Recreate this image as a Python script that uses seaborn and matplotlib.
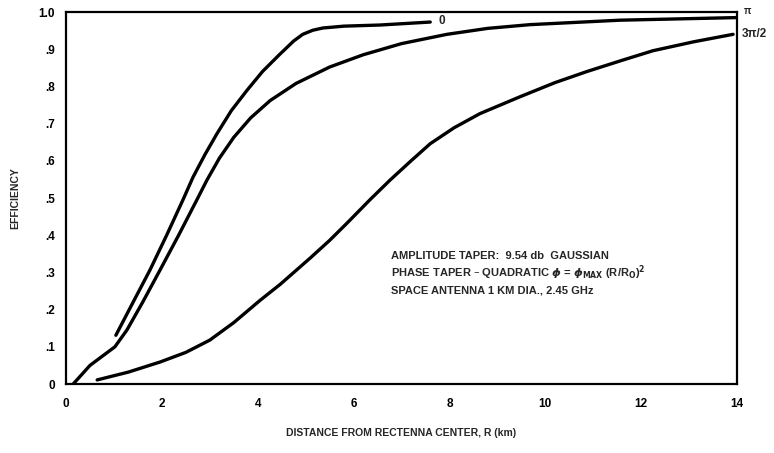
import matplotlib
matplotlib.use("Agg")
import matplotlib.pyplot as plt
import seaborn as sns
import pandas as pd

# --- data ---
phase_labels = ["0", "π", "3π/2"]

x_phase0 = [1.04, 1.4, 1.75, 2.1, 2.44, 2.65, 2.9, 3.15, 3.45, 3.78, 4.1, 4.45, 4.75, 4.94, 5.15, 5.36, 5.8, 6.55, 7.6]
y_phase0 = [0.131, 0.22, 0.306, 0.40, 0.495, 0.556, 0.617, 0.673, 0.735, 0.79, 0.84, 0.885, 0.922, 0.94, 0.951, 0.957, 0.962, 0.965, 0.973]

x_phasepi = [0.15, 0.5, 1.02, 1.27, 1.6, 1.96, 2.35, 2.73, 2.94, 3.2, 3.5, 3.85, 4.26, 4.8, 5.5, 6.2, 7.0, 7.95, 8.8, 9.68, 11.56, 14.0]
y_phasepi = [0.0, 0.05, 0.10, 0.145, 0.22, 0.306, 0.40, 0.495, 0.548, 0.607, 0.663, 0.715, 0.762, 0.808, 0.852, 0.885, 0.915, 0.940, 0.956, 0.966, 0.978, 0.985]

x_phase3pi2 = [0.65, 1.3, 1.96, 2.5, 3.0, 3.5, 4.05, 4.47, 5.09, 5.5, 5.86, 6.34, 6.76, 7.2, 7.6, 8.1, 8.64, 9.47, 10.2, 10.87, 11.6, 12.25, 13.1, 13.92]
y_phase3pi2 = [0.011, 0.032, 0.059, 0.085, 0.118, 0.165, 0.225, 0.268, 0.338, 0.386, 0.432, 0.495, 0.548, 0.6, 0.646, 0.689, 0.727, 0.772, 0.81, 0.84, 0.87, 0.896, 0.92, 0.94]

x_ticks = [0, 2, 4, 6, 8, 10, 12, 14]
x_tick_labels = ["0", "2", "4", "6", "8", "10", "12", "14"]
y_ticks = [0, 0.1, 0.2, 0.3, 0.4, 0.5, 0.6, 0.7, 0.8, 0.9, 1.0]
y_tick_labels = ["0", ".1", ".2", ".3", ".4", ".5", ".6", ".7", ".8", ".9", "1.0"]

annotation_lines = [
    "AMPLITUDE TAPER:  9.54 db  GAUSSIAN",
    r"PHASE TAPER – QUADRATIC $\phi$ = $\phi_{\rm MAX}$ (R/R$_{\rm O}$)$^{\mathbf{2}}$",
    "SPACE ANTENNA 1 KM DIA., 2.45 GHz",
]

frames = []
for lab, xs, ys in zip(phase_labels, [x_phase0, x_phasepi, x_phase3pi2],
                       [y_phase0, y_phasepi, y_phase3pi2]):
    frames.append(pd.DataFrame({"R": xs, "eff": ys, "phase": lab}))
df = pd.concat(frames, ignore_index=True)

sns.set_style("white")
plt.rcParams["font.family"] = ["Liberation Sans", "DejaVu Sans"]
plt.rcParams["font.weight"] = "bold"
plt.rcParams["mathtext.fontset"] = "dejavusans"

fig = plt.figure(figsize=(7.74, 4.53), dpi=100)
ax = fig.add_axes([0.0853, 0.1523, 0.8668, 0.8212])

sns.lineplot(data=df, x="R", y="eff", hue="phase", units="phase", estimator=None,
             palette=["black"] * 3, legend=False, linewidth=2.4, sort=False, ax=ax)
for ln in ax.lines:
    ln.set_solid_joinstyle("round")
    ln.set_solid_capstyle("round")

ax.set_xlim(0, 14)
ax.set_ylim(0, 1.0)
ax.set_xticks(x_ticks)
ax.set_xticklabels(x_tick_labels, fontsize=8.5, fontweight="bold")
ax.set_yticks(y_ticks)
ax.set_yticklabels(y_tick_labels, fontsize=8.5, fontweight="bold")
ax.tick_params(direction="in", length=7, width=1.4, pad=8, colors="black")
ax.tick_params(axis="x", pad=10)
for s in ax.spines.values():
    s.set_linewidth(1.6)
    s.set_color("black")

ax.set_xlabel("DISTANCE FROM RECTENNA CENTER, R (km)", fontsize=7.5, fontweight="bold", labelpad=13)
ax.set_ylabel("EFFICIENCY", fontsize=7.5, fontweight="bold", labelpad=13)

# curve labels
ax.text(7.78, 0.975, phase_labels[0], fontsize=8.5, fontweight="bold", va="center", ha="left")
ax.text(14.15, 1.003, phase_labels[1], fontsize=7, fontweight="bold", va="center", ha="left", clip_on=False)
ax.text(14.1, 0.94, phase_labels[2], fontsize=8.5, fontweight="bold", va="center", ha="left", clip_on=False)

for i, line in enumerate(annotation_lines):
    ax.text(6.78, 0.345 - i * 0.047, line, fontsize=8, fontweight="bold", va="center", ha="left")

fig.savefig("out.png", dpi=100)
